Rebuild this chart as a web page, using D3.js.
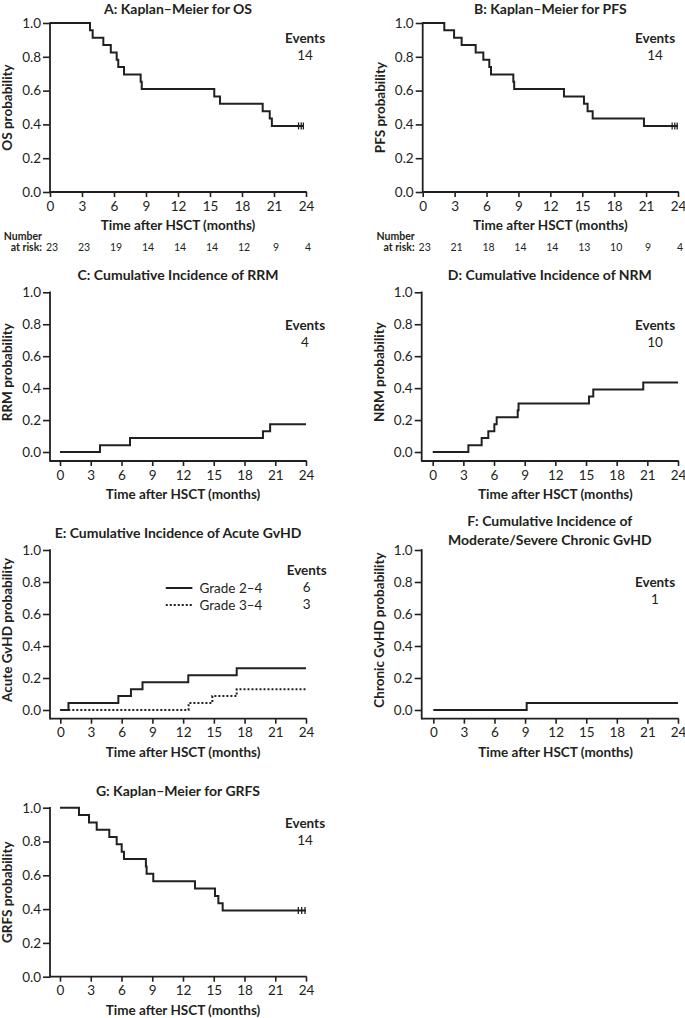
<!DOCTYPE html>
<html><head><meta charset="utf-8">
<script src="https://cdn.jsdelivr.net/npm/d3@7"></script>
<style>
body{margin:0;background:#fff;}
svg text{font-family:Lato, "Open Sans", sans-serif;fill:#231f20;}
</style></head>
<body><svg id="c" width="685" height="1018"></svg>
<script>
const xTicks = [0,3,6,9,12,15,18,21,24];
const yTicks = [0,0.2,0.4,0.6,0.8,1.0];

// A: OS
const osTimes = [3.75,4.0,5.0,5.7,6.25,6.4,6.94,8.5,8.6,15.4,15.94,19.94,20.6,20.8];
const osValues = [0.957,0.913,0.870,0.826,0.783,0.739,0.696,0.652,0.609,0.565,0.522,0.478,0.435,0.391];
const osCensor = [23.3,23.55,23.75];
const osAtRisk = [23,23,19,14,14,14,12,9,4];
// B: PFS
const pfsTimes = [2.03,2.95,3.66,4.98,5.7,6.26,6.42,8.52,8.6,13.28,15.16,15.5,15.98,20.8];
const pfsValues = [0.957,0.913,0.870,0.826,0.783,0.739,0.696,0.652,0.609,0.565,0.522,0.478,0.435,0.391];
const pfsCensor = [23.45,23.7,23.92];
const pfsAtRisk = [23,21,18,14,14,13,10,9,4];
// C: RRM
const rrmTimes = [3.9,6.83,19.8,20.5];
const rrmValues = [0.043,0.087,0.130,0.174];
// D: NRM
const nrmTimes = [3.49,4.79,5.44,6.03,6.26,8.32,8.4,15.29,15.71,20.6];
const nrmValues = [0.043,0.087,0.130,0.174,0.217,0.261,0.304,0.348,0.391,0.435];
// E: Acute GvHD
const agvhd24Times = [0.8,5.67,6.9,8.03,12.5,17.23];
const agvhd24Values = [0.043,0.087,0.130,0.174,0.217,0.261];
const agvhd34Times = [12.53,14.85,17.23];
const agvhd34Values = [0.043,0.087,0.130];
// F: Chronic GvHD
const cgvhdTimes = [9.16];
const cgvhdValues = [0.043];
// G: GRFS
const grfsTimes = [1.85,2.83,3.58,4.81,5.53,6.02,6.24,8.38,8.45,9.1,13.17,15.12,15.45,15.87];
const grfsValues = [0.957,0.913,0.870,0.826,0.783,0.739,0.696,0.652,0.609,0.565,0.522,0.478,0.435,0.391];
const grfsCensor = [23.25,23.58,23.9];

const svg = d3.select("#c");
const ink = "#231f20";

function stepPoints(start, times, values, end){
  const pts = [{t:0, v:start}];
  times.forEach((t,i)=>pts.push({t:t, v:values[i]}));
  pts.push({t:end, v:values[values.length-1]});
  return pts;
}

function panel(cfg){
  const g = svg.append("g");
  const x = d3.scaleLinear().domain([0,24]).range([cfg.x0, cfg.x1]);
  const y = d3.scaleLinear().domain([0,1]).range([cfg.y0, cfg.y1]);
  const ya = g.append("g").attr("transform",`translate(${cfg.left},0)`)
    .call(d3.axisLeft(y).tickValues(yTicks).tickFormat(d3.format(".1f")).tickSize(7).tickSizeOuter(0).tickPadding(2));
  ya.select(".domain").remove();
  ya.selectAll("line").attr("stroke",ink).attr("stroke-width",1.6);
  ya.selectAll("text").attr("font-size",13.5).attr("fill","#333").style("font-family","Lato");
  const xa = g.append("g").attr("transform",`translate(0,${cfg.axisY})`)
    .call(d3.axisBottom(x).tickValues(xTicks).tickSize(5).tickSizeOuter(0).tickPadding(4));
  xa.select(".domain").remove();
  xa.selectAll("line").attr("stroke",ink).attr("stroke-width",1.6);
  xa.selectAll("text").attr("font-size",13.5).attr("fill","#333").style("font-family","Lato");
  g.append("line").attr("x1",cfg.left).attr("x2",cfg.left).attr("y1",y(1)-0.8).attr("y2",cfg.axisY+0.8)
    .attr("stroke",ink).attr("stroke-width",1.8);
  g.append("line").attr("x1",cfg.left).attr("x2",x(24)+0.8).attr("y1",cfg.axisY).attr("y2",cfg.axisY)
    .attr("stroke",ink).attr("stroke-width",1.8);
  const tc = (cfg.left + x(24))/2;
  cfg.title.forEach((t,i)=>{
    g.append("text").attr("x",tc).attr("y",cfg.titleY + i*18.5).attr("text-anchor","middle")
      .attr("font-size",14).attr("font-weight","bold").text(t);
  });
  g.append("text").attr("x",(x(0)+x(24))/2).attr("y",cfg.axisY+38).attr("text-anchor","middle")
    .attr("font-size",13.5).attr("font-weight","bold").text("Time after HSCT (months)");
  g.append("text").attr("transform",`translate(${cfg.left-38},${(y(0)+y(1))/2}) rotate(-90)`)
    .attr("text-anchor","middle").attr("font-size",13.5).attr("font-weight","bold").text(cfg.ylabel);
  const line = d3.line().x(d=>x(d.t)).y(d=>y(d.v)).curve(d3.curveStepAfter);
  cfg.series.forEach(s=>{
    g.append("path").attr("d",line(stepPoints(s.start,s.times,s.values,s.end)))
      .attr("fill","none").attr("stroke",ink).attr("stroke-width",2)
      .attr("stroke-dasharray",s.dash||null);
    (s.censor||[]).forEach(c=>{
      const yy = y(s.values[s.values.length-1]);
      g.append("line").attr("x1",x(c)).attr("x2",x(c)).attr("y1",yy-3.5).attr("y2",yy+3.5)
        .attr("stroke",ink).attr("stroke-width",1.3);
    });
  });
  const ex = cfg.eventsX;
  g.append("text").attr("x",ex).attr("y",cfg.eventsY).attr("text-anchor","middle")
    .attr("font-size",13.5).attr("font-weight","bold").text("Events");
  cfg.events.forEach((e,i)=>{
    g.append("text").attr("x",ex).attr("y",cfg.eventsY+17*(i+1)).attr("text-anchor","middle")
      .attr("font-size",13.5).attr("fill","#333").text(e);
  });
  if(cfg.legend){
    cfg.legend.forEach((l,i)=>{
      const ly = cfg.eventsY+13+17*i;
      g.append("line").attr("x1",x(10.3)).attr("x2",x(12.9)).attr("y1",ly).attr("y2",ly)
        .attr("stroke",ink).attr("stroke-width",2).attr("stroke-dasharray",l.dash||null);
      g.append("text").attr("x",x(13.6)).attr("y",ly+4.5).attr("font-size",13.5).attr("fill","#333").text(l.label);
    });
  }
  if(cfg.atRisk){
    g.append("text").attr("x",cfg.left-8).attr("y",cfg.axisY+48).attr("text-anchor","end")
      .attr("font-size",10.5).attr("font-weight","bold").text("Number");
    g.append("text").attr("x",cfg.left-8).attr("y",cfg.axisY+58.5).attr("text-anchor","end")
      .attr("font-size",10.5).attr("font-weight","bold").text("at risk:");
    cfg.atRisk.forEach((n,i)=>{
      g.append("text").attr("x",x(xTicks[i])+2).attr("y",cfg.axisY+58.5).attr("text-anchor","middle")
        .attr("font-size",10.5).attr("fill","#333").text(n);
    });
  }
}

panel({left:50,x0:50,x1:306,y1:23,y0:192,axisY:192,titleY:13.5,title:["A: Kaplan–Meier for OS"],
  ylabel:"OS probability",eventsX:305,eventsY:43,events:[14],atRisk:osAtRisk,
  series:[{start:1,times:osTimes,values:osValues,end:23.75,censor:osCensor}]});
panel({left:422.7,x0:422.7,x1:678,y1:23,y0:192,axisY:192,titleY:13.5,title:["B: Kaplan–Meier for PFS"],
  ylabel:"PFS probability",eventsX:655,eventsY:43,events:[14],atRisk:pfsAtRisk,
  series:[{start:1,times:pfsTimes,values:pfsValues,end:24,censor:pfsCensor}]});
panel({left:50,x0:60,x1:306,y1:292.3,y0:452,axisY:461,titleY:280,title:["C: Cumulative Incidence of RRM"],
  ylabel:"RRM probability",eventsX:305,eventsY:330,events:[4],
  series:[{start:0,times:rrmTimes,values:rrmValues,end:24}]});
panel({left:421.7,x0:432.7,x1:678,y1:292.3,y0:452,axisY:461,titleY:280,title:["D: Cumulative Incidence of NRM"],
  ylabel:"NRM probability",eventsX:655,eventsY:330,events:[10],
  series:[{start:0,times:nrmTimes,values:nrmValues,end:24}]});
panel({left:50,x0:60.3,x1:306,y1:550,y0:710,axisY:718.7,titleY:538,title:["E: Cumulative Incidence of Acute GvHD"],
  ylabel:"Acute GvHD probability",eventsX:306.7,eventsY:575,events:[6,3],
  legend:[{label:"Grade 2–4"},{label:"Grade 3–4",dash:"2,2"}],
  series:[{start:0,times:agvhd34Times,values:agvhd34Values,end:24,dash:"2,2"},
          {start:0,times:agvhd24Times,values:agvhd24Values,end:24}]});
panel({left:421.7,x0:433.3,x1:678,y1:550,y0:710,axisY:718.7,titleY:526,title:["F: Cumulative Incidence of","Moderate/Severe Chronic GvHD"],
  ylabel:"Chronic GvHD probability",eventsX:655,eventsY:587,events:[1],
  series:[{start:0,times:cgvhdTimes,values:cgvhdValues,end:24}]});
panel({left:50,x0:60,x1:306,y1:807.7,y0:976.7,axisY:976.7,titleY:796,title:["G: Kaplan–Meier for GRFS"],
  ylabel:"GRFS probability",eventsX:305,eventsY:828,events:[14],
  series:[{start:1,times:grfsTimes,values:grfsValues,end:24,censor:grfsCensor}]});
</script></body></html>
